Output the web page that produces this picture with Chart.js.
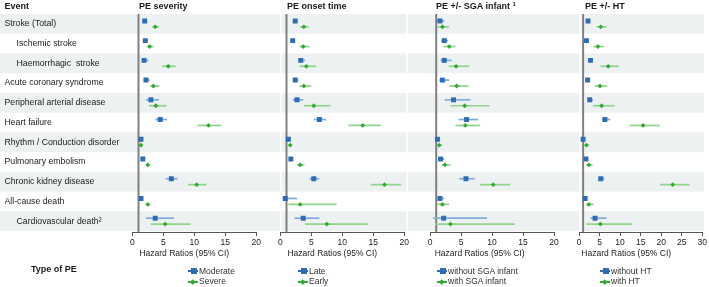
<!DOCTYPE html>
<html><head><meta charset="utf-8">
<script src="https://cdn.jsdelivr.net/npm/chart.js@4.4.1/dist/chart.umd.min.js"></script>
<style>
html,body{margin:0;padding:0;background:#fff;}
#wrap{position:relative;width:709px;height:287px;overflow:hidden;font-family:"Liberation Sans",Arial,sans-serif;}
canvas{position:absolute;top:0;}
.t{position:absolute;font-weight:bold;font-size:9px;color:#1a1a1a;white-space:nowrap;line-height:1;}
.lg{position:absolute;font-size:8.5px;color:#333;white-space:nowrap;line-height:1;}
.mk{position:absolute;width:10px;height:2px;}
.mk i{position:absolute;display:block;}
</style></head>
<body><div id="wrap"></div>
<script>
const NB = '\u00a0';
const rows = ['Stroke (Total)', NB.repeat(5)+'Ischemic stroke', NB.repeat(5)+'Haemorrhagic  stroke', 'Acute coronary syndrome',
  'Peripheral arterial disease', 'Heart failure', 'Rhythm / Conduction disorder', 'Pulmonary embolism',
  'Chronic kidney disease', 'All-cause death', NB.repeat(5)+'Cardiovascular death\u00b2'];
const panelTitles = ['PE severity', 'PE onset time', 'PE +/- SGA infant <span style="font-size:6px;position:relative;top:-3px">1</span>', 'PE +/- HT'];
const seriesNames = [['Moderate','Severe'], ['Late','Early'], ['without SGA infant','with SGA infant'], ['without HT','with HT']];
const xMax = [20, 20, 20, 30];
const xStep = [5, 5, 5, 5];
const axisTitle = 'Hazard Ratios (95% CI)';

// PE severity
const sevModHR = [2.0,2.1,1.9,2.2,3.0,4.5,1.4,1.7,6.3,1.4,3.7];
const sevModLo = [1.7,1.8,1.6,1.9,2.2,3.7,1.2,1.5,5.4,1.2,2.2];
const sevModHi = [2.4,2.5,2.6,2.8,4.3,5.6,1.6,1.9,7.3,1.8,6.7];
const sevSevHR = [3.7,2.8,5.8,3.4,3.8,12.3,1.4,2.5,10.4,2.5,5.3];
const sevSevLo = [3.2,2.3,4.8,2.9,2.7,10.5,1.2,2.2,9.0,2.2,3.0];
const sevSevHi = [4.3,3.4,7.0,4.4,5.5,14.4,1.7,2.9,12.0,2.9,9.4];
// PE onset time
const onsLateHR = [2.4,2.0,3.3,2.4,2.7,6.3,1.3,1.7,5.4,0.8,3.7];
const onsLateLo = [2.1,1.7,2.9,2.1,2.0,5.4,1.1,1.4,4.7,0.4,2.3];
const onsLateHi = [2.8,2.3,4.0,2.9,3.7,7.4,1.5,1.8,6.3,2.7,6.3];
const onsEarlyHR = [3.8,3.7,4.2,3.8,5.4,13.3,1.6,3.2,16.8,3.2,7.5];
const onsEarlyLo = [3.2,3.1,3.1,3.1,3.8,11.0,1.3,2.7,14.6,1.3,4.0];
const onsEarlyHi = [4.6,4.7,5.8,5.0,8.1,16.2,1.8,3.9,19.5,9.1,14.1];
// PE +/- SGA infant
const sgaNoHR = [1.6,2.3,2.3,2.0,3.8,5.9,1.2,1.7,5.8,1.6,2.2];
const sgaNoLo = [1.2,1.8,1.7,1.5,2.4,4.6,1.1,1.3,4.7,1.2,0.5];
const sgaNoHi = [2.3,2.9,3.5,3.1,6.5,7.8,1.4,2.3,7.2,2.3,9.2];
const sgaYesHR = [2.0,3.1,4.2,4.3,5.6,5.7,1.5,2.4,10.2,2.0,3.3];
const sgaYesLo = [1.2,2.2,3.0,3.1,3.3,4.1,1.2,1.9,8.1,1.2,0.8];
const sgaYesHi = [3.1,4.1,6.3,6.2,9.6,8.1,1.9,3.3,12.9,3.1,13.7];
// PE +/- HT
const htNoHR = [2.2,1.8,2.8,2.1,2.6,6.3,1.0,1.7,5.3,1.5,3.9];
const htNoLo = [2.0,1.6,2.4,1.9,2.2,5.6,0.9,1.5,4.7,1.3,2.8];
const htNoHi = [2.4,2.1,3.3,2.4,3.4,7.6,1.2,1.9,6.2,1.7,6.7];
const htYesHR = [5.3,4.6,7.1,5.1,5.5,15.6,1.8,2.4,22.8,2.4,5.2];
const htYesLo = [4.2,3.5,5.2,3.8,3.4,12.3,1.4,1.8,19.7,1.7,1.8];
const htYesHi = [6.7,6.1,9.7,6.9,8.7,19.6,2.5,3.3,26.9,3.6,13.0];

const panelData = [
  [[sevModHR,sevModLo,sevModHi],[sevSevHR,sevSevLo,sevSevHi]],
  [[onsLateHR,onsLateLo,onsLateHi],[onsEarlyHR,onsEarlyLo,onsEarlyHi]],
  [[sgaNoHR,sgaNoLo,sgaNoHi],[sgaYesHR,sgaYesLo,sgaYesHi]],
  [[htNoHR,htNoLo,htNoHi],[htYesHR,htYesLo,htYesHi]]
];

const BLUE = '#2e6db4', BLUE_CI = '#80abdd', GREEN = '#33a833', GREEN_CI = '#8ed58a';
const BAND = '#edf1f1';
Chart.defaults.font.family = "'Liberation Sans', Arial, sans-serif";

// layout of the four canvases
const layout = [
  {left:0,   width:709, padL:4.5, padR:452.8, titleX:139, lgX:188, lead:3},
  {left:260, width:160, padL:20.3, padR:15.7, titleX:287, lgX:298, lead:3},
  {left:410, width:160, padL:20,  padR:16,   titleX:436, lgX:437, lead:2},
  {left:560, width:149, padL:19,  padR:5.3,  titleX:585, lgX:600, lead:1}
];
const bandSegs = [[0,280],[281.5,406.5],[408,579.5],[581,704]];

const bandPlugin = {
  id: 'bands',
  beforeDraw(chart) {
    const {ctx} = chart; const y = chart.scales.y;
    ctx.save(); ctx.fillStyle = BAND;
    for (let i = 0; i < rows.length; i += 2) {
      const t = y.getPixelForValue(i - 0.5), b = y.getPixelForValue(i + 0.5);
      bandSegs.forEach(([a, c]) => ctx.fillRect(a, t, c - a, b - t));
    }
    ctx.restore();
  }
};
const ciPlugin = {
  id: 'ci',
  beforeDatasetsDraw(chart) {
    const {ctx, chartArea} = chart; const xs = chart.scales.x, ys = chart.scales.y;
    ctx.save();
    ctx.strokeStyle = '#808080'; ctx.lineWidth = 2;
    const rx = xs.getPixelForValue(1);
    ctx.beginPath(); ctx.moveTo(rx, ys.getPixelForValue(-0.5)); ctx.lineTo(rx, chartArea.bottom); ctx.stroke();
    chart.data.datasets.forEach(ds => {
      ctx.strokeStyle = ds.ciColor; ctx.lineWidth = 1.7;
      ds.data.forEach((p, i) => {
        const py = ys.getPixelForValue(p.y);
        ctx.beginPath();
        ctx.moveTo(xs.getPixelForValue(ds.lo[i]), py);
        ctx.lineTo(xs.getPixelForValue(ds.hi[i]), py);
        ctx.stroke();
      });
    });
    ctx.restore();
  }
};

const wrap = document.getElementById('wrap');
function addText(cls, html, x, y, extra) {
  const d = document.createElement('div'); d.className = cls; d.innerHTML = html;
  d.style.left = x + 'px'; d.style.top = y + 'px';
  if (extra) Object.assign(d.style, extra);
  wrap.appendChild(d); return d;
}

layout.forEach((L, p) => {
  const cv = document.createElement('canvas');
  cv.width = L.width; cv.height = 287; cv.style.left = L.left + 'px';
  cv.style.width = L.width + 'px'; cv.style.height = '287px';
  wrap.appendChild(cv);
  const [s1, s2] = panelData[p];
  const datasets = [
    {label: seriesNames[p][0], data: s1[0].map((v, i) => ({x: v, y: i - 0.15})), lo: s1[1], hi: s1[2],
     ciColor: BLUE_CI, pointStyle: 'rect', pointRadius: 3.5, backgroundColor: BLUE, borderColor: BLUE, pointBorderWidth: 0},
    {label: seriesNames[p][1], data: s2[0].map((v, i) => ({x: v, y: i + 0.15})), lo: s2[1], hi: s2[2],
     ciColor: GREEN_CI, pointStyle: 'rectRot', pointRadius: 2.4, backgroundColor: GREEN, borderColor: GREEN, pointBorderWidth: 0}
  ];
  const yScale = {
    type: 'linear', min: -0.5, max: 10.55, reverse: true, display: p === 0,
    afterBuildTicks: s => { s.ticks = rows.map((_, i) => ({value: i})); },
    ticks: {autoSkip: false, crossAlign: 'far', padding: 0, font: {size: 8.7}, color: '#1a1a1a',
            callback: v => rows[v] ?? ''},
    grid: {display: false}, border: {display: false}
  };
  if (p === 0) yScale.afterFit = s => { s.width = 127.8; };
  new Chart(cv, {
    type: 'scatter',
    data: {datasets},
    plugins: p === 0 ? [bandPlugin, ciPlugin] : [ciPlugin],
    options: {
      responsive: false, animation: false, devicePixelRatio: 1,
      layout: {padding: {left: L.padL, right: L.padR, top: 14, bottom: 28}},
      plugins: {legend: {display: false}, tooltip: {enabled: false}},
      scales: {
        x: {
          type: 'linear', min: 0, max: xMax[p],
          ticks: {stepSize: xStep[p], font: {size: 8.5}, color: '#222', padding: 2, maxRotation: 0},
          grid: {display: true, drawOnChartArea: false, drawTicks: true, tickLength: 4, color: '#555'},
          border: {display: true, color: '#555', width: 1},
          title: {display: true, text: NB.repeat(L.lead) + axisTitle, align: 'start', font: {size: 8.5}, color: '#222', padding: {top: 0, bottom: 0}},
          afterFit: s => { s.height = 27; }
        },
        y: yScale
      }
    }
  });
  addText('t', panelTitles[p], L.titleX, 2);
  // legend
  [[BLUE, 'rect'], [GREEN, 'diamond']].forEach(([col, shape], k) => {
    const cy = k === 0 ? 271.3 : 281.5;
    const m = document.createElement('div'); m.className = 'mk';
    m.style.left = L.lgX + 'px'; m.style.top = (cy - 1) + 'px';
    m.style.background = col;
    const dot = document.createElement('i');
    if (shape === 'rect') { Object.assign(dot.style, {width:'6px',height:'6px',left:'3px',top:'-2px',background:col}); }
    else { Object.assign(dot.style, {width:'3.5px',height:'3.5px',left:'3.2px',top:'-0.8px',background:col,transform:'rotate(45deg)'}); }
    m.appendChild(dot); wrap.appendChild(m);
    addText('lg', datasets[k].label, L.lgX + 11, cy - 4.3);
  });
});
addText('t', 'Event', 4.5, 2);
addText('t', 'Type of PE', 31, 265.4);
</script></body></html>
